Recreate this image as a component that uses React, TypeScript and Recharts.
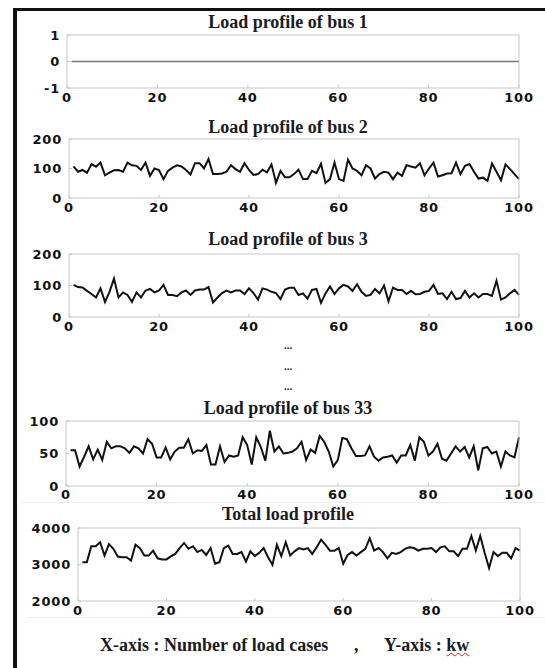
import React from 'react';
import { LineChart, Line, XAxis, YAxis } from 'recharts';

const loadCases = Array.from({ length: 100 }, (_, i) => i + 1);
const xTicks = [0, 20, 40, 60, 80, 100];

const bus1 = [
  0, 0, 0, 0, 0, 0, 0, 0, 0, 0, 0, 0, 0, 0, 0, 0, 0, 0, 0, 0,
  0, 0, 0, 0, 0, 0, 0, 0, 0, 0, 0, 0, 0, 0, 0, 0, 0, 0, 0, 0,
  0, 0, 0, 0, 0, 0, 0, 0, 0, 0, 0, 0, 0, 0, 0, 0, 0, 0, 0, 0,
  0, 0, 0, 0, 0, 0, 0, 0, 0, 0, 0, 0, 0, 0, 0, 0, 0, 0, 0, 0,
  0, 0, 0, 0, 0, 0, 0, 0, 0, 0, 0, 0, 0, 0, 0, 0, 0, 0, 0, 0,
];

const bus2 = [
  107, 89, 95, 85, 115, 106, 120, 77, 86, 94,
  95, 89, 120, 111, 109, 95, 120, 75, 100, 95,
  64, 92, 103, 111, 107, 95, 80, 118, 118, 100,
  132, 81, 81, 83, 89, 111, 98, 89, 118, 95,
  78, 81, 96, 87, 114, 51, 92, 70, 70, 81,
  96, 64, 64, 92, 84, 116, 51, 64, 120, 64,
  58, 130, 100, 92, 77, 111, 100, 66, 81, 89,
  86, 64, 86, 75, 111, 107, 103, 118, 77, 100,
  120, 73, 77, 83, 84, 120, 81, 109, 115, 89,
  66, 69, 58, 117, 89, 60, 114, 98, 81, 64,
];

const bus3 = [
  102, 95, 94, 83, 73, 62, 91, 48, 80, 122,
  62, 78, 70, 48, 78, 62, 84, 89, 78, 84,
  102, 70, 70, 66, 78, 84, 70, 84, 87, 87,
  95, 46, 62, 76, 84, 78, 84, 84, 73, 91,
  76, 55, 91, 87, 80, 76, 57, 87, 93, 93,
  70, 75, 58, 86, 89, 45, 75, 97, 73, 91,
  102, 97, 83, 104, 80, 67, 70, 89, 75, 100,
  50, 93, 86, 86, 73, 83, 72, 73, 80, 83,
  102, 73, 75, 57, 80, 57, 60, 83, 62, 75,
  62, 73, 73, 67, 115, 55, 62, 75, 86, 70,
];

const bus33 = [
  55, 55, 30, 45, 61, 41, 56, 40, 68, 58,
  61, 61, 58, 51, 61, 58, 50, 72, 65, 44,
  44, 59, 41, 53, 59, 59, 72, 50, 55, 54,
  63, 33, 33, 61, 37, 47, 45, 47, 75, 63,
  33, 75, 60, 39, 85, 53, 61, 50, 51, 53,
  58, 68, 40, 56, 51, 77, 68, 53, 30, 40,
  74, 72, 58, 46, 46, 47, 61, 45, 39, 44,
  45, 47, 36, 47, 47, 63, 39, 75, 68, 47,
  53, 65, 42, 39, 50, 61, 53, 60, 44, 61,
  24, 58, 60, 50, 53, 30, 53, 47, 44, 75,
];

const totalLoad = [
  3064, 3064, 3500, 3500, 3610, 3245, 3560, 3430, 3220, 3200,
  3200, 3110, 3540, 3450, 3245, 3245, 3380, 3170, 3140, 3140,
  3220, 3290, 3450, 3590, 3430, 3500, 3340, 3400, 3260, 3450,
  3020, 3064, 3450, 3520, 3290, 3290, 3340, 3080, 3360, 3230,
  3320, 3450, 3200, 2990, 3540, 3230, 3610, 3245, 3360, 3450,
  3410, 3450, 3290, 3470, 3680, 3540, 3380, 3380, 3450, 3020,
  3260, 3340, 3245, 3340, 3430, 3720, 3380, 3450, 3340, 3170,
  3320, 3290, 3340, 3430, 3470, 3450, 3380, 3430, 3430, 3450,
  3340, 3470, 3500, 3360, 3360, 3230, 3430, 3430, 3780, 3380,
  3780, 3320, 2900, 3340, 3230, 3320, 3320, 3170, 3450, 3380,
];

const rows = loadCases.map((c, i) => ({
  loadCase: c,
  bus1: bus1[i],
  bus2: bus2[i],
  bus3: bus3[i],
  bus33: bus33[i],
  total: totalLoad[i],
}));

const BOX = '#c6c6c6';
const tickStyle = {
  fill: '#111',
  fontSize: 13,
  fontWeight: 700,
  fontFamily: '"DejaVu Sans", sans-serif',
  letterSpacing: 0.8,
};

const serif = '"Liberation Serif", "DejaVu Serif", serif';

type PanelProps = {
  title: string;
  titleBaseline: number;
  plotLeft: number;
  plotTop: number;
  plotBottom: number;
  plotRight: number;
  dataKey: string;
  yDomain: [number, number];
  yTicks: number[];
  stroke: string;
  strokeWidth: number;
  xTickMargin?: number;
};

function Panel(p: PanelProps) {
  const h = p.plotBottom - p.plotTop;
  const chartTop = p.plotTop - 12;
  return (
    <>
      <div
        style={{
          position: 'absolute',
          left: 0,
          width: 576,
          top: p.titleBaseline - 12.6,
          textAlign: 'center',
          fontFamily: serif,
          fontWeight: 700,
          fontSize: 18,
          lineHeight: '13px',
          color: '#1b1b22',
          whiteSpace: 'nowrap',
        }}
      >
        {p.title}
      </div>
      <div style={{ position: 'absolute', left: 0, top: chartTop }}>
        <LineChart
          width={545}
          height={h + 34}
          data={rows}
          margin={{ top: 11, right: 545 - p.plotRight - 1, bottom: 0, left: 0 }}
        >
          <XAxis
            xAxisId="b"
            dataKey="loadCase"
            type="number"
            domain={[0, 100]}
            ticks={xTicks}
            interval={0}
            orientation="bottom"
            height={22}
            tickSize={-3}
            tickMargin={p.xTickMargin ?? 8}
            stroke={BOX}
            tick={tickStyle}
          />
          <XAxis
            xAxisId="t"
            dataKey="loadCase"
            type="number"
            domain={[0, 100]}
            ticks={xTicks}
            interval={0}
            orientation="top"
            height={1}
            tickSize={-3}
            stroke={BOX}
            tick={false}
          />
          <YAxis
            yAxisId="l"
            type="number"
            domain={p.yDomain}
            ticks={p.yTicks}
            interval={0}
            width={p.plotLeft}
            tickSize={-3}
            tickMargin={10}
            stroke={BOX}
            tick={tickStyle}
          />
          <YAxis
            yAxisId="r"
            orientation="right"
            type="number"
            domain={p.yDomain}
            ticks={p.yTicks}
            interval={0}
            width={1}
            tickSize={-3}
            stroke={BOX}
            tick={false}
          />
          <Line
            xAxisId="b"
            yAxisId="l"
            dataKey={p.dataKey}
            type="linear"
            stroke={p.stroke}
            strokeWidth={p.strokeWidth}
            dot={false}
            isAnimationActive={false}
          />
        </LineChart>
      </div>
    </>
  );
}

const dotRows = [349, 370, 390];

const footerStyle: React.CSSProperties = {
  position: 'absolute',
  top: 639,
  fontFamily: serif,
  fontWeight: 700,
  fontSize: 18,
  lineHeight: '13px',
  color: '#1b1b22',
  whiteSpace: 'pre',
};

export default function App() {
  return (
    <div
      style={{
        position: 'absolute',
        left: 0,
        top: 0,
        width: 545,
        height: 668,
        overflow: 'hidden',
        background: '#fff',
      }}
    >
      <div
        style={{
          position: 'absolute',
          left: 13,
          top: 8,
          width: 620,
          height: 720,
          borderLeft: '4px solid #111',
          borderTop: '3px solid #111',
        }}
      />
      <div style={{ position: 'absolute', left: 20, top: 502, width: 530, height: 1, background: '#f0f0f0' }} />
      <div style={{ position: 'absolute', left: 27, top: 617, width: 520, height: 1, background: '#efefef' }} />

      <Panel title="Load profile of bus 1" titleBaseline={29} plotLeft={67} plotTop={35} plotBottom={88} plotRight={519}
        dataKey="bus1" yDomain={[-1, 1]} yTicks={[-1, 0, 1]} stroke="#767676" strokeWidth={1.6} />
      <Panel title="Load profile of bus 2" titleBaseline={134} plotLeft={69} plotTop={139} plotBottom={198} plotRight={519}
        dataKey="bus2" yDomain={[0, 200]} yTicks={[0, 100, 200]} stroke="#111" strokeWidth={2} />
      <Panel title="Load profile of bus 3" titleBaseline={246} plotLeft={69} plotTop={254} plotBottom={317} plotRight={519}
        dataKey="bus3" yDomain={[0, 200]} yTicks={[0, 100, 200]} stroke="#111" strokeWidth={2} />

      {dotRows.map((b) => (
        <div
          key={b}
          style={{
            position: 'absolute',
            left: 0,
            width: 576,
            top: b - 9,
            textAlign: 'center',
            fontFamily: serif,
            fontWeight: 700,
            fontSize: 11,
            lineHeight: '11px',
            color: '#1b1b22',
          }}
        >
          ...
        </div>
      ))}

      <Panel title="Load profile of bus 33" titleBaseline={415} plotLeft={66} plotTop={421} plotBottom={486} plotRight={519}
        dataKey="bus33" yDomain={[0, 100]} yTicks={[0, 50, 100]} stroke="#111" strokeWidth={2} xTickMargin={7} />
      <Panel title="Total load profile" titleBaseline={520.5} plotLeft={78} plotTop={528} plotBottom={601} plotRight={520}
        dataKey="total" yDomain={[2000, 4000]} yTicks={[2000, 3000, 4000]} stroke="#111" strokeWidth={2} />

      <div style={{ ...footerStyle, left: 100 }}>X-axis : Number of load cases</div>
      <div style={{ ...footerStyle, left: 354 }}>,</div>
      <div style={{ ...footerStyle, left: 384 }}>
        Y-axis : <span style={{ textDecoration: 'underline wavy #e02020', textDecorationThickness: 1 }}>kw</span>
      </div>
    </div>
  );
}
